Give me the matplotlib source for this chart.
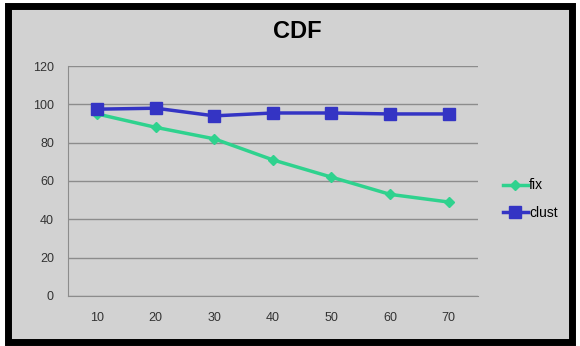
import matplotlib.pyplot as plt
from matplotlib.patches import Rectangle

plt.rcParams['font.family'] = ['Liberation Sans', 'DejaVu Sans']

x_labels = ['10', '20', '30', '40', '50', '60', '70']
fix = [95, 88, 82, 71, 62, 53, 49]
clust = [97.5, 98, 94, 95.5, 95.5, 95, 95]
y_ticks = [0, 20, 40, 60, 80, 100, 120]

bg = '#d2d2d2'
fig = plt.figure(figsize=(5.8, 3.46), dpi=100, facecolor='white')
# grey panel with thick black frame
fig.patches.append(Rectangle((0.013, 0.013), 0.974, 0.97, transform=fig.transFigure,
                             facecolor=bg, edgecolor='black', linewidth=5, zorder=-1))

ax = fig.add_axes([0.117, 0.145, 0.707, 0.664])
ax.set_facecolor(bg)
pos = range(len(x_labels))
ax.plot(pos, fix, color='#2fd28e', lw=2.5, marker='D', ms=5, label='fix')
ax.plot(pos, clust, color='#3434c4', lw=2.5, marker='s', ms=9, label='clust')

ax.set_xlim(-0.5, len(x_labels) - 0.5)
ax.set_ylim(0, 120)
ax.set_yticks(y_ticks)
ax.set_xticks(list(pos))
ax.set_xticklabels(x_labels)
ax.yaxis.grid(True, color='#8c8c8c', lw=1)
ax.set_axisbelow(True)
ax.tick_params(length=0, labelsize=9, colors='#333333', pad=10)
ax.tick_params(axis='x', pad=12)
for s in ['top', 'right']:
    ax.spines[s].set_visible(False)
ax.spines['left'].set_color('#8c8c8c')
ax.spines['bottom'].set_color('#8c8c8c')

fig.text(0.512, 0.91, 'CDF', ha='center', va='center', fontsize=17, fontweight='bold')

ax.legend(loc='center left', bbox_to_anchor=(1.03, 0.42), frameon=False, fontsize=10,
          handlelength=1.8, handletextpad=0.1, labelspacing=1.0)

fig.savefig('out.png', dpi=100, facecolor='white')
